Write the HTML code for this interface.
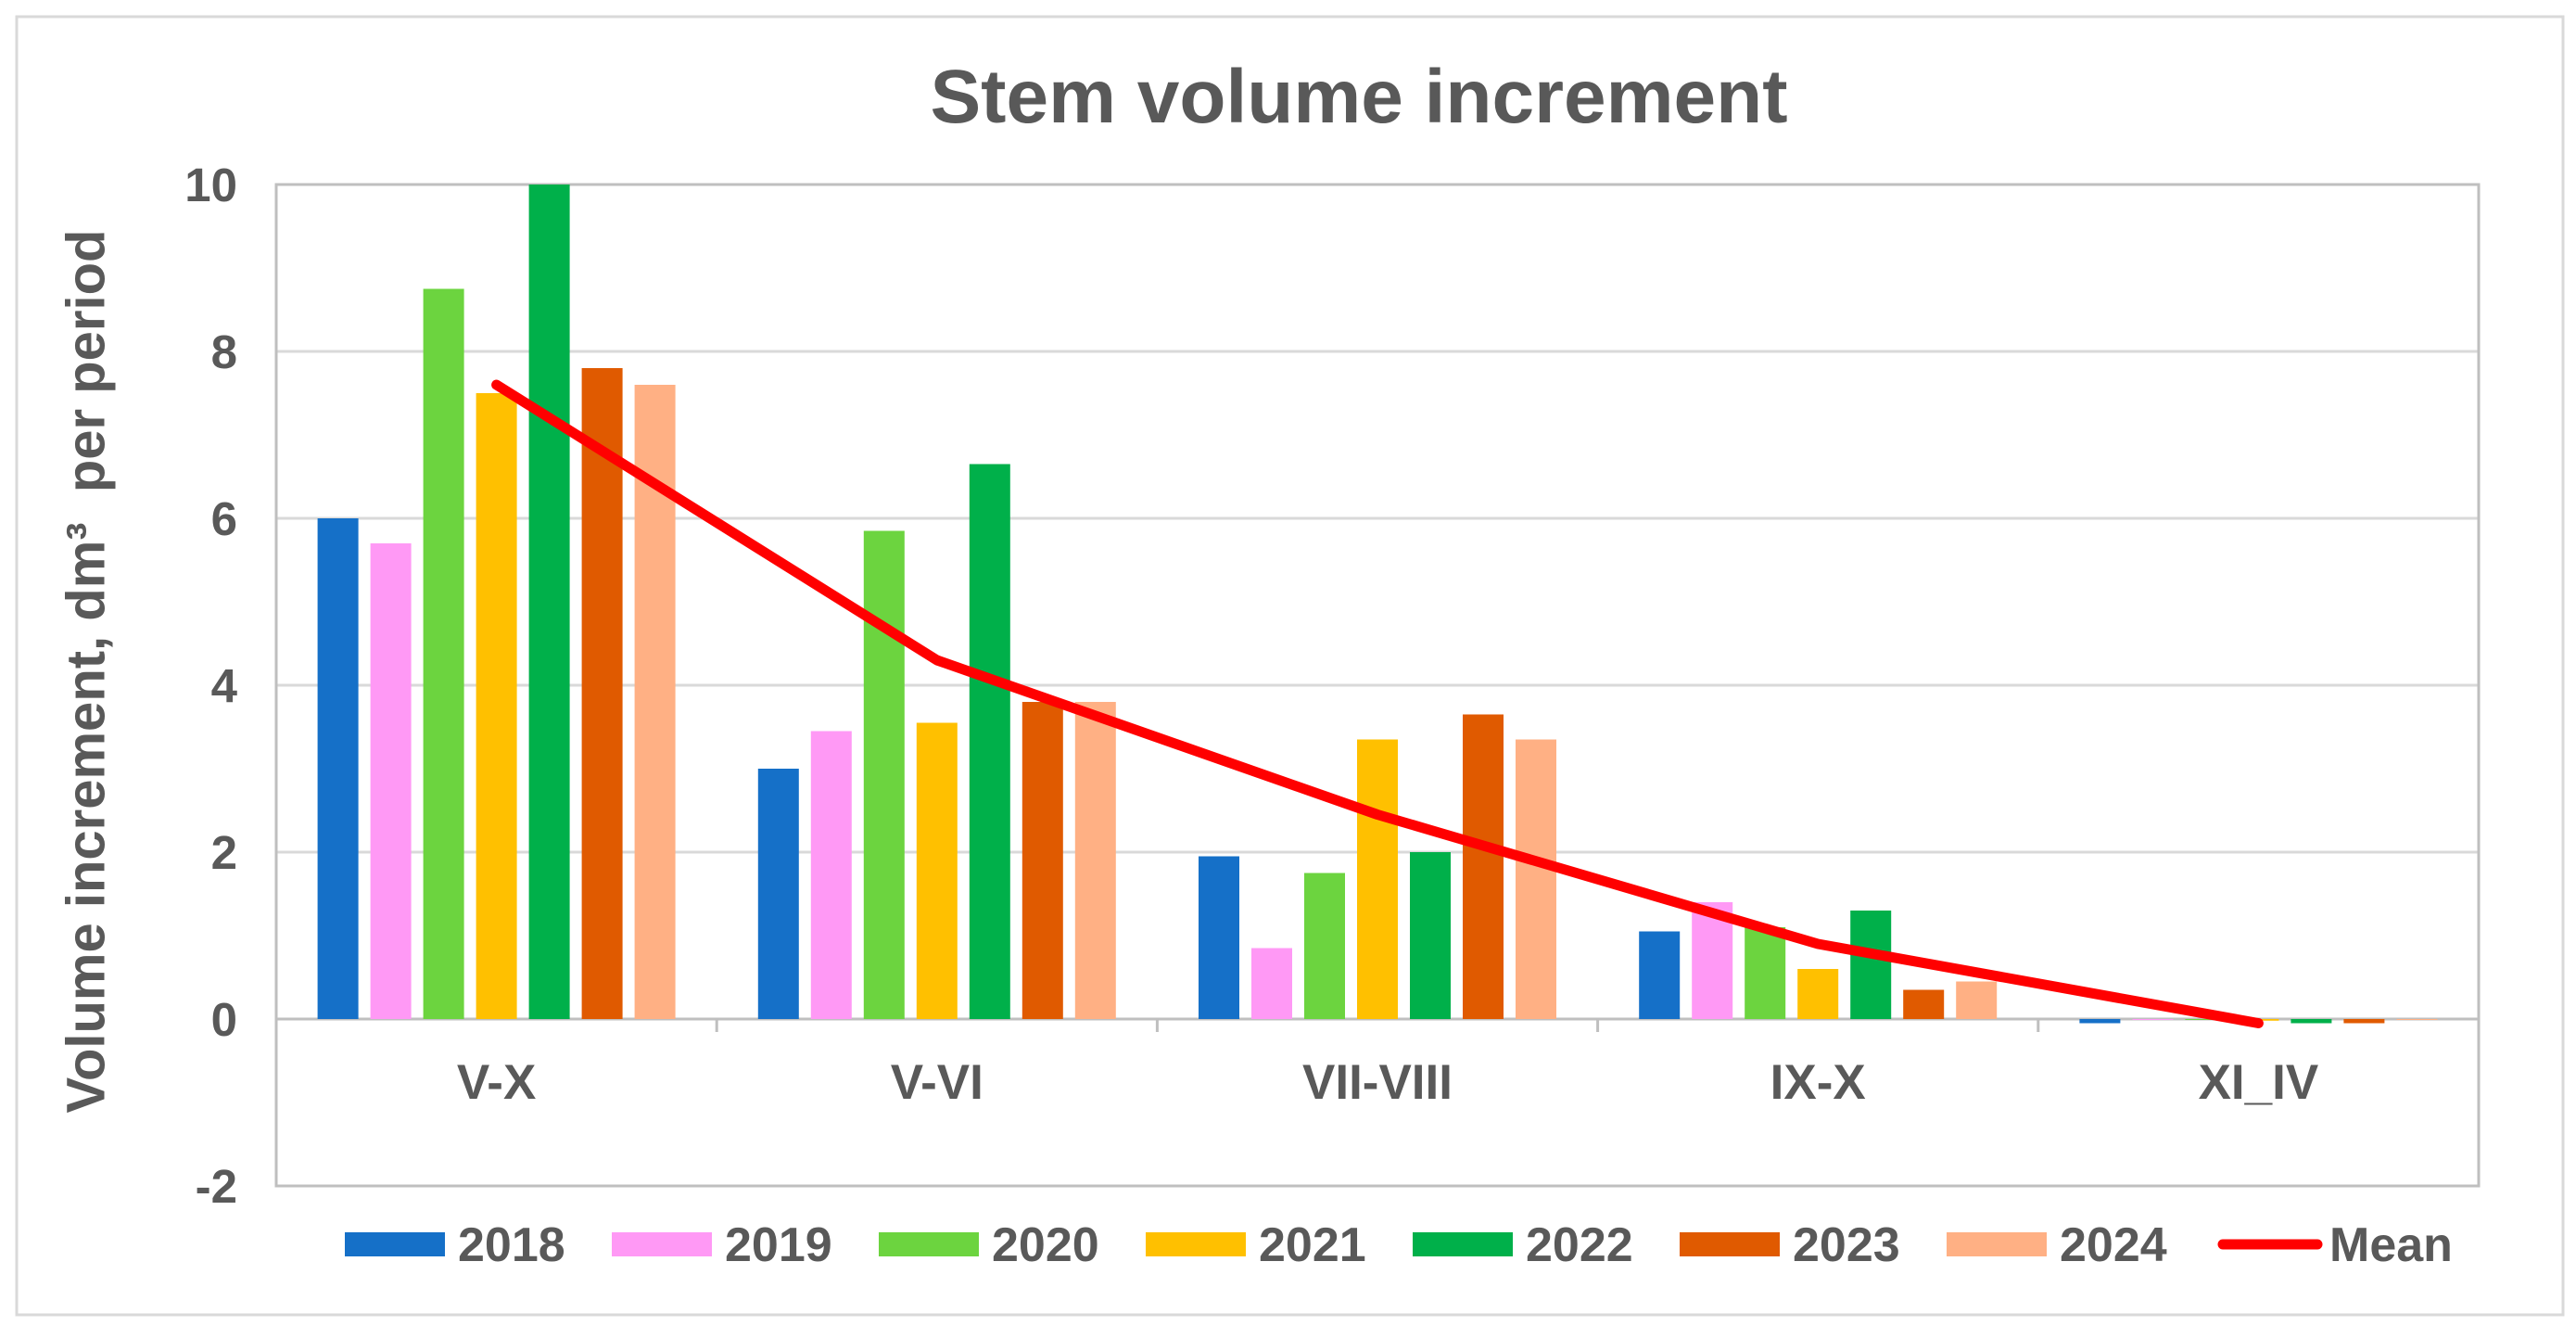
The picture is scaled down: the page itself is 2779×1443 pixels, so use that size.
<!DOCTYPE html>
<html><head><meta charset="utf-8"><style>
html,body{margin:0;padding:0;background:#fff;}
svg{display:block;font-family:"Liberation Sans",Arial,sans-serif;font-weight:bold;}
</style></head><body>
<svg id="chart" width="2779" height="1443" viewBox="0 0 2779 1443">
<rect x="18" y="18" width="2747" height="1400" fill="#fff" stroke="#d9d9d9" stroke-width="3"/>
<text x="1466" y="132" text-anchor="middle" font-size="82" fill="#595959">Stem volume increment</text>
<text transform="translate(97,724) rotate(-90)" text-anchor="middle" dominant-baseline="middle" font-size="58" fill="#595959" xml:space="preserve">Volume increment, dm³  per period</text>
<g id="grid"></g><g id="bars"></g><g id="line"></g><g id="legend"></g>
</svg>
<script>
const categories=["V-X","V-VI","VII-VIII","IX-X","XI_IV"];
const seriesNames=["2018","2019","2020","2021","2022","2023","2024"];
const colors=["#1570c8","#ff99f5","#6cd43f","#ffc000","#00b04a","#e05a00","#ffb084"];
const s2018=[6.0,3.0,1.95,1.05,-0.05];
const s2019=[5.7,3.45,0.85,1.4,0.0];
const s2020=[8.75,5.85,1.75,1.1,0.0];
const s2021=[7.5,3.55,3.35,0.6,-0.02];
const s2022=[10.0,6.65,2.0,1.3,-0.05];
const s2023=[7.8,3.8,3.65,0.35,-0.05];
const s2024=[7.6,3.8,3.35,0.45,0.0];
const meanVals=[7.6,4.3,2.45,0.9,-0.05];
const yTicks=[-2,0,2,4,6,8,10];
const series=[s2018,s2019,s2020,s2021,s2022,s2023,s2024];
const NS="http://www.w3.org/2000/svg";
const L=298,R=2674,T=199,B=1279,ymin=-2,ymax=10;
const y=v=>B-(v-ymin)/(ymax-ymin)*(B-T);
const gw=(R-L)/categories.length;
const xc=i=>L+gw*(i+0.5);
const pitch=57,bw=44;
function mk(tag,attrs,parent){const e=document.createElementNS(NS,tag);for(const k in attrs)e.setAttribute(k,attrs[k]);parent.appendChild(e);return e;}
const grid=document.getElementById('grid');
yTicks.forEach(t=>{
  const ln=mk('line',{x1:L,x2:R,y1:y(t),y2:y(t),stroke:'#d9d9d9','stroke-width':3},grid);
  
  
  const tx=mk('text',{x:256,y:y(t)+18,'text-anchor':'end','font-size':51,fill:'#595959'},grid);
  tx.textContent=t;
  
  
});
const fr=mk('rect',{x:L,y:T,width:R-L,height:B-T,fill:'none',stroke:'#bfbfbf','stroke-width':3},grid);


const za=mk('line',{x1:L,x2:R,y1:y(0),y2:y(0),stroke:'#bfbfbf','stroke-width':3},grid);


categories.forEach((c,i)=>{
  if(i>0){const tk=mk('line',{x1:L+gw*i,x2:L+gw*i,y1:y(0),y2:y(0)+14,stroke:'#bfbfbf','stroke-width':3},grid);
    
    }
  const tx=mk('text',{x:xc(i),y:1185,'text-anchor':'middle','font-size':53,fill:'#595959'},grid);
  tx.textContent=c;
  
  
});
const bars=document.getElementById('bars');
series.forEach((s,si)=>{
  s.forEach((v,i)=>{
    const x=xc(i)+(si-3)*pitch-bw/2;
    const y0=y(0),y1=y(v);
    const r=mk('rect',{x:x,y:Math.min(y0,y1),width:bw,height:Math.max(Math.abs(y0-y1),1),fill:colors[si]},bars);
    
    
  });
});
const line=document.getElementById('line');
const pl=mk('polyline',{points:meanVals.map((v,i)=>xc(i)+','+y(v)).join(' '),fill:'none',stroke:'#ff0000','stroke-width':11,'stroke-linejoin':'round','stroke-linecap':'round'},line);


const lg=document.getElementById('legend');
const ly=1342;
seriesNames.forEach((n,i)=>{
  const x0=372+i*288;
  const sw=mk('rect',{x:x0,y:ly-13,width:108,height:26,fill:colors[i]},lg);
  
  
  const tx=mk('text',{x:x0+122,y:ly+18,'font-size':52,fill:'#595959'},lg);
  tx.textContent=n;
  
  
});
const ml=mk('line',{x1:2398,x2:2500,y1:ly,y2:ly,stroke:'#ff0000','stroke-width':11,'stroke-linecap':'round'},lg);


const mt=mk('text',{x:2513,y:ly+18,'font-size':52,fill:'#595959'},lg);
mt.textContent='Mean';


</script>
</body></html>
